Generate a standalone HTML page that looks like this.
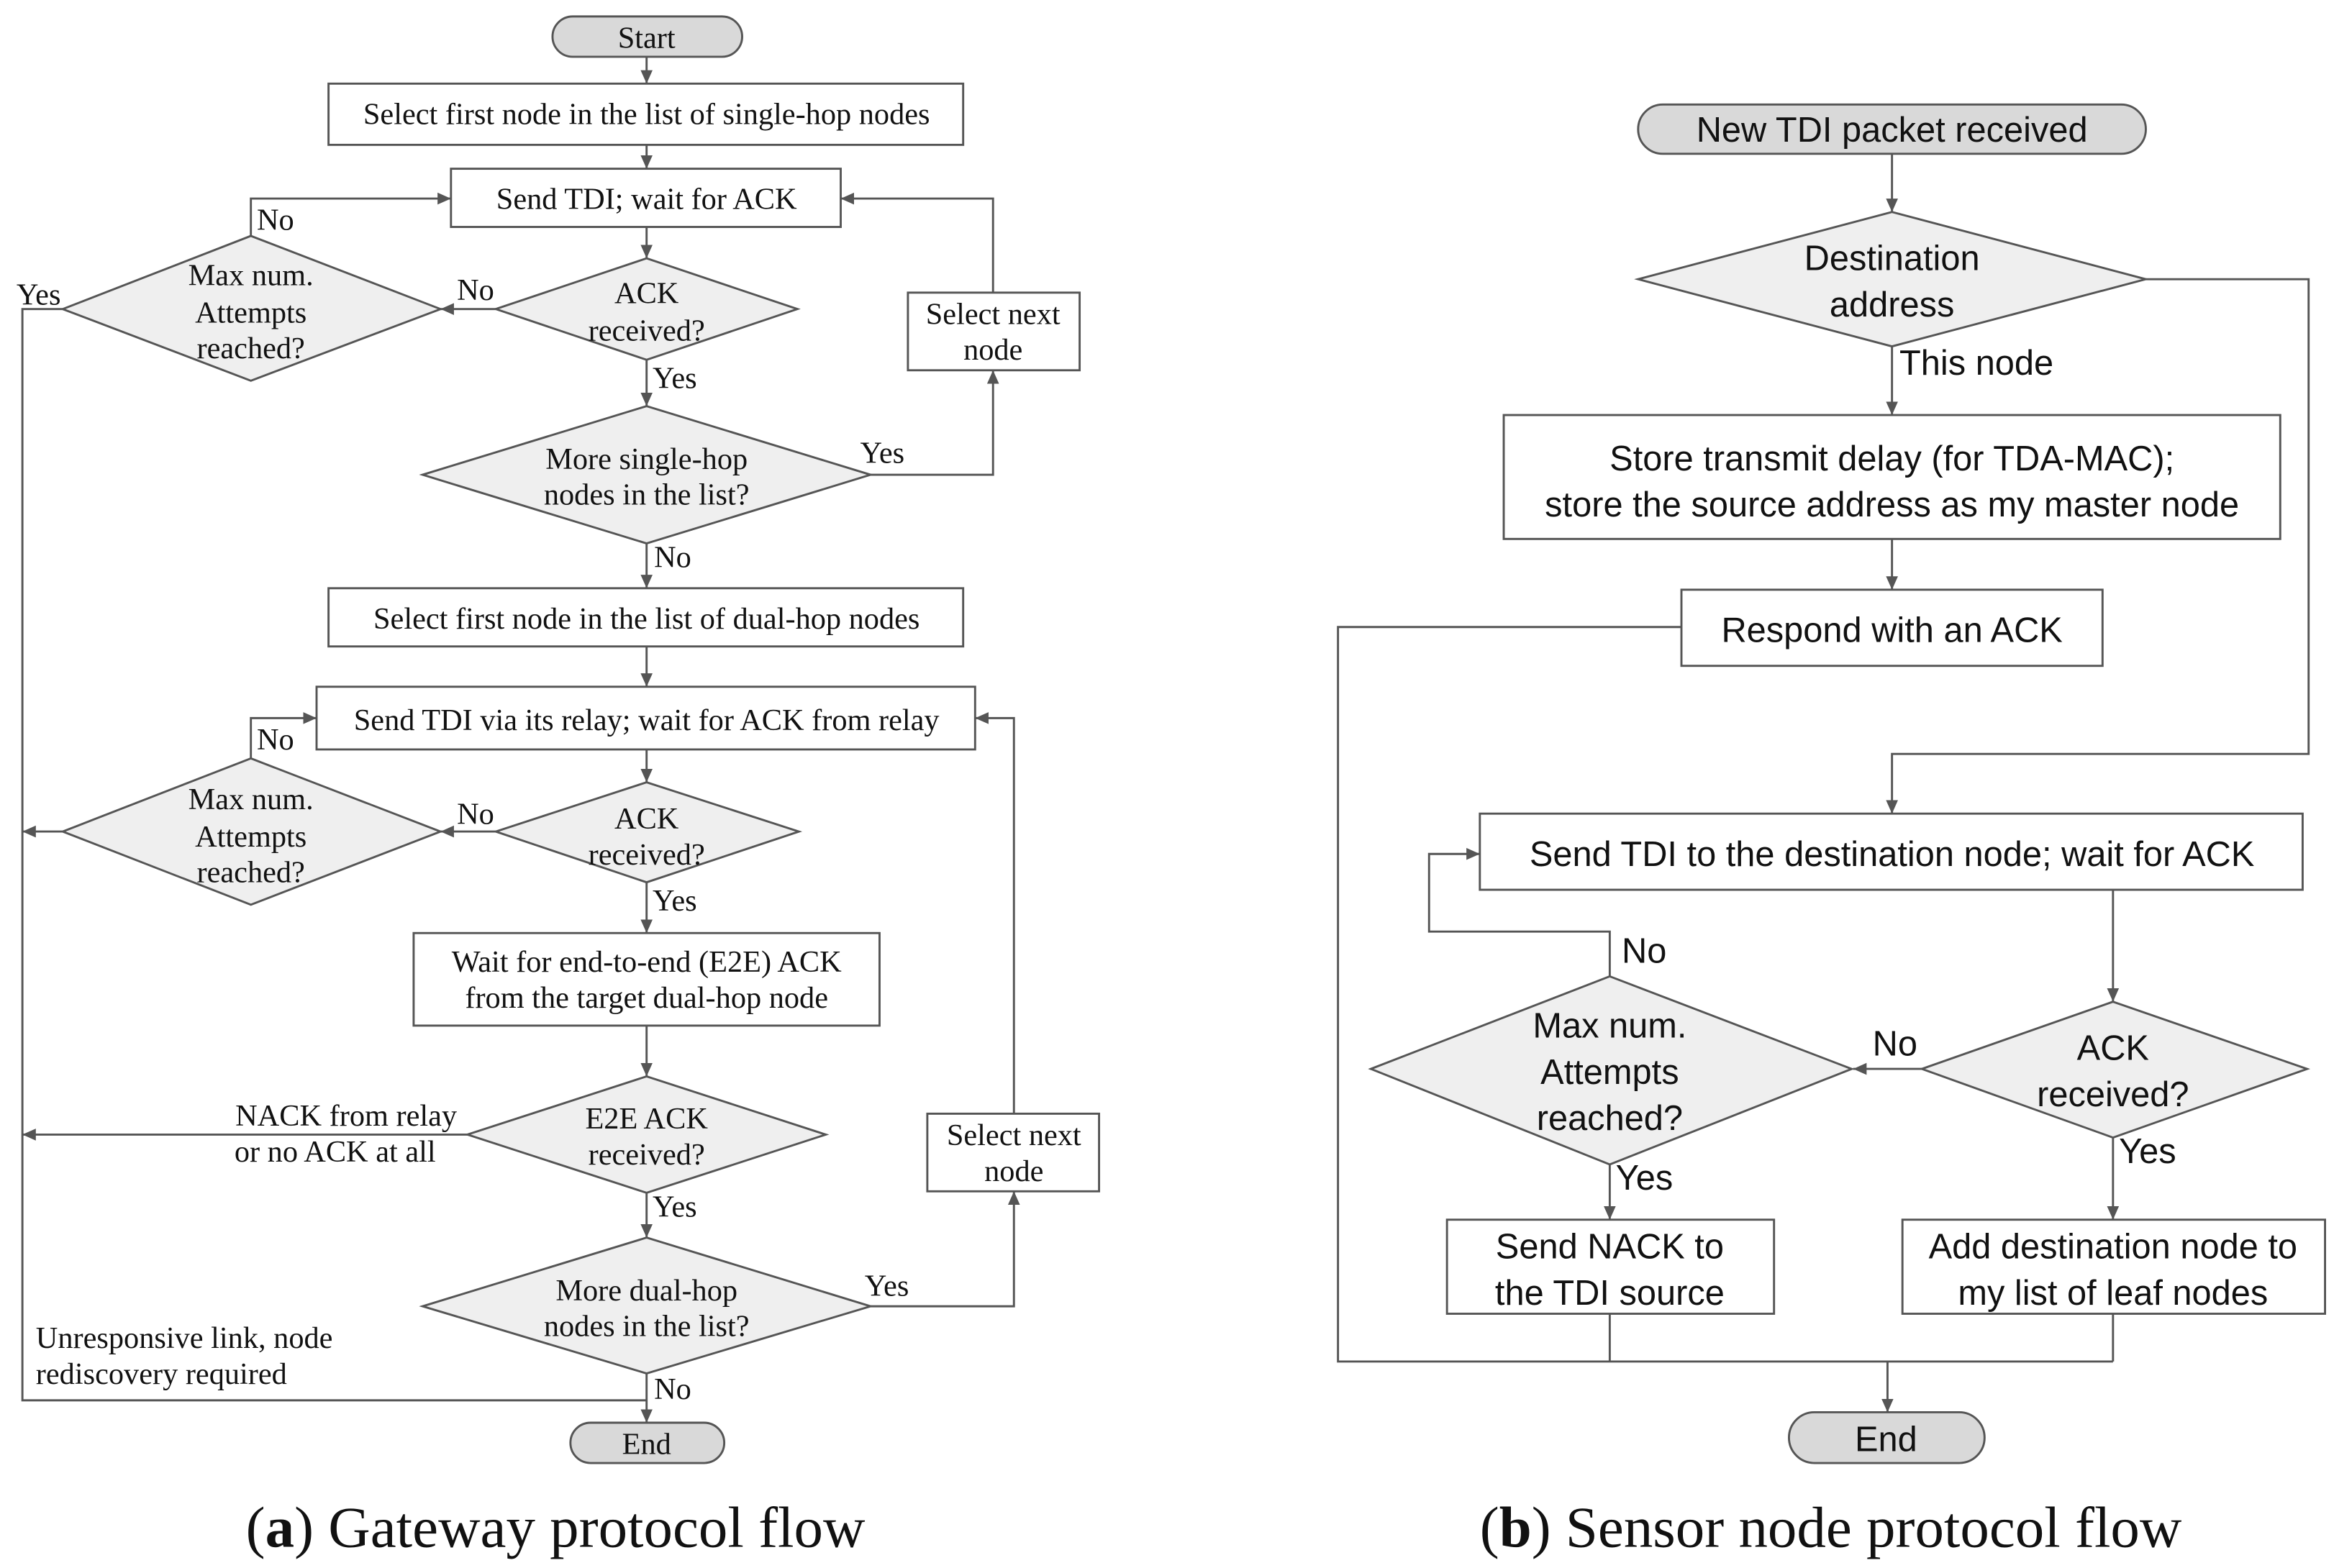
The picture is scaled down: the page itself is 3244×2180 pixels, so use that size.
<!DOCTYPE html>
<html><head><meta charset="utf-8"><style>
html,body{margin:0;padding:0;background:#fff;}
svg{display:block;}
.l text{font-family:"Liberation Serif",serif;font-size:20.4px;fill:#111;}
.r text{font-family:"Liberation Sans",sans-serif;font-size:23.5px;fill:#111;}
.cap{font-family:"Liberation Serif",serif;font-size:39px;fill:#111;}
.ln{stroke:#555;stroke-width:1.4;fill:none;}
.bx{stroke:#555;stroke-width:1.4;fill:#fff;}
.dm{stroke:#555;stroke-width:1.4;fill:#efefef;}
.pl{stroke:#555;stroke-width:1.4;fill:#d9d9d9;}
</style></head><body>
<svg width="3244" height="2180" viewBox="0 0 1563 1050.3" xmlns="http://www.w3.org/2000/svg">
<defs><marker id="a" markerWidth="10" markerHeight="10" refX="9" refY="5" orient="auto" markerUnits="userSpaceOnUse"><path d="M0,1 L9,5 L0,9 z" fill="#555"/></marker></defs>
<g class="l">
<rect class="pl" x="370" y="11" width="127" height="27" rx="13.5"/>
<text x="433" y="32" text-anchor="middle">Start</text>
<line class="ln" x1="433" y1="38" x2="433" y2="56" marker-end="url(#a)"/>
<rect class="bx" x="220" y="56" width="425" height="41"/>
<text x="433" y="83" text-anchor="middle">Select first node in the list of single-hop nodes</text>
<line class="ln" x1="433" y1="97" x2="433" y2="113" marker-end="url(#a)"/>
<rect class="bx" x="302" y="113" width="261" height="39"/>
<text x="433" y="140" text-anchor="middle">Send TDI; wait for ACK</text>
<line class="ln" x1="433" y1="152" x2="433" y2="173" marker-end="url(#a)"/>
<polygon class="dm" points="433,173 534,207 433,241 332,207"/>
<text x="433" y="203" text-anchor="middle">ACK</text><text x="433" y="228" text-anchor="middle">received?</text>
<line class="ln" x1="332" y1="207" x2="295" y2="207" marker-end="url(#a)"/>
<text x="306" y="201">No</text>
<polygon class="dm" points="168,158 295,207 168,255 42,207"/>
<text x="168" y="191" text-anchor="middle">Max num.</text><text x="168" y="216" text-anchor="middle">Attempts</text><text x="168" y="240" text-anchor="middle">reached?</text>
<polyline class="ln" points="168,158 168,133 302,133" marker-end="url(#a)"/>
<text x="172" y="154">No</text>
<polyline class="ln" points="42,207 15,207 15,938 433,938"/>
<text x="11" y="204">Yes</text>
<line class="ln" x1="433" y1="241" x2="433" y2="272" marker-end="url(#a)"/>
<text x="437" y="260">Yes</text>
<polygon class="dm" points="433,272 583,318 433,364 283,318"/>
<text x="433" y="314" text-anchor="middle">More single-hop</text><text x="433" y="338" text-anchor="middle">nodes in the list?</text>
<polyline class="ln" points="583,318 665,318 665,248" marker-end="url(#a)"/>
<text x="576" y="310">Yes</text>
<rect class="bx" x="608" y="196" width="115" height="52"/>
<text x="665" y="217" text-anchor="middle">Select next</text><text x="665" y="241" text-anchor="middle">node</text>
<polyline class="ln" points="665,196 665,133 563,133" marker-end="url(#a)"/>
<line class="ln" x1="433" y1="364" x2="433" y2="394" marker-end="url(#a)"/>
<text x="438" y="380">No</text>
<rect class="bx" x="220" y="394" width="425" height="39"/>
<text x="433" y="421" text-anchor="middle">Select first node in the list of dual-hop nodes</text>
<line class="ln" x1="433" y1="433" x2="433" y2="460" marker-end="url(#a)"/>
<rect class="bx" x="212" y="460" width="441" height="42"/>
<text x="433" y="489" text-anchor="middle">Send TDI via its relay; wait for ACK from relay</text>
<line class="ln" x1="433" y1="502" x2="433" y2="524" marker-end="url(#a)"/>
<polygon class="dm" points="433,524 535,557 433,591 332,557"/>
<text x="433" y="555" text-anchor="middle">ACK</text><text x="433" y="579" text-anchor="middle">received?</text>
<line class="ln" x1="332" y1="557" x2="295" y2="557" marker-end="url(#a)"/>
<text x="306" y="552">No</text>
<polygon class="dm" points="168,508 295,557 168,606 42,557"/>
<text x="168" y="542" text-anchor="middle">Max num.</text><text x="168" y="567" text-anchor="middle">Attempts</text><text x="168" y="591" text-anchor="middle">reached?</text>
<polyline class="ln" points="168,508 168,481 212,481" marker-end="url(#a)"/>
<text x="172" y="502">No</text>
<line class="ln" x1="42" y1="557" x2="15" y2="557" marker-end="url(#a)"/>
<line class="ln" x1="433" y1="591" x2="433" y2="625" marker-end="url(#a)"/>
<text x="437" y="610">Yes</text>
<rect class="bx" x="277" y="625" width="312" height="62"/>
<text x="433" y="651" text-anchor="middle">Wait for end-to-end (E2E) ACK</text><text x="433" y="675" text-anchor="middle">from the target dual-hop node</text>
<line class="ln" x1="433" y1="687" x2="433" y2="721" marker-end="url(#a)"/>
<polygon class="dm" points="433,721 553,760 433,799 313,760"/>
<text x="433" y="756" text-anchor="middle">E2E ACK</text><text x="433" y="780" text-anchor="middle">received?</text>
<line class="ln" x1="313" y1="760" x2="15" y2="760" marker-end="url(#a)"/>
<text x="306" y="754" text-anchor="end">NACK from relay</text>
<text x="157" y="778">or no ACK at all</text>
<line class="ln" x1="433" y1="799" x2="433" y2="829" marker-end="url(#a)"/>
<text x="437" y="815">Yes</text>
<polygon class="dm" points="433,829 583,875 433,920 283,875"/>
<text x="433" y="871" text-anchor="middle">More dual-hop</text><text x="433" y="895" text-anchor="middle">nodes in the list?</text>
<polyline class="ln" points="583,875 679,875 679,798" marker-end="url(#a)"/>
<text x="579" y="868">Yes</text>
<rect class="bx" x="621" y="746" width="115" height="52"/>
<text x="679" y="767" text-anchor="middle">Select next</text><text x="679" y="791" text-anchor="middle">node</text>
<polyline class="ln" points="679,746 679,481 653,481" marker-end="url(#a)"/>
<line class="ln" x1="433" y1="920" x2="433" y2="953" marker-end="url(#a)"/>
<text x="438" y="937">No</text>
<text x="24" y="903">Unresponsive link, node</text>
<text x="24" y="927">rediscovery required</text>
<rect class="pl" x="382" y="953" width="103" height="27" rx="13.5"/>
<text x="433" y="974" text-anchor="middle">End</text>
</g>
<g class="r">
<rect class="pl" x="1097" y="70" width="340" height="33" rx="16.5"/>
<text x="1267" y="95" text-anchor="middle">New TDI packet received</text>
<line class="ln" x1="1267" y1="103" x2="1267" y2="142" marker-end="url(#a)"/>
<polygon class="dm" points="1267,142 1437,187 1267,232 1097,187"/>
<text x="1267" y="181" text-anchor="middle">Destination</text><text x="1267" y="212" text-anchor="middle">address</text>
<polyline class="ln" points="1437,187 1546,187 1546,505 1267,505 1267,545" marker-end="url(#a)"/>
<line class="ln" x1="1267" y1="232" x2="1267" y2="278" marker-end="url(#a)"/>
<text x="1272" y="251">This node</text>
<rect class="bx" x="1007" y="278" width="520" height="83"/>
<text x="1267" y="315" text-anchor="middle">Store transmit delay (for TDA-MAC);</text>
<text x="1267" y="346" text-anchor="middle">store the source address  as my master node</text>
<line class="ln" x1="1267" y1="361" x2="1267" y2="395" marker-end="url(#a)"/>
<rect class="bx" x="1126" y="395" width="282" height="51"/>
<text x="1267" y="430" text-anchor="middle">Respond with an ACK</text>
<polyline class="ln" points="1126,420 896,420 896,912 1415,912"/>
<rect class="bx" x="991" y="545" width="551" height="51"/>
<text x="1267" y="580" text-anchor="middle">Send TDI to the destination node; wait for ACK</text>
<line class="ln" x1="1415" y1="596" x2="1415" y2="671" marker-end="url(#a)"/>
<polygon class="dm" points="1415,671 1545,716 1415,762 1287,716"/>
<text x="1415" y="710" text-anchor="middle">ACK</text><text x="1415" y="741" text-anchor="middle">received?</text>
<line class="ln" x1="1287" y1="716" x2="1241" y2="716" marker-end="url(#a)"/>
<text x="1254" y="707">No</text>
<polygon class="dm" points="1078,654 1240,716 1078,780 918,716"/>
<text x="1078" y="695" text-anchor="middle">Max num.</text><text x="1078" y="726" text-anchor="middle">Attempts</text><text x="1078" y="757" text-anchor="middle">reached?</text>
<polyline class="ln" points="1078,654 1078,624 957,624 957,572 991,572" marker-end="url(#a)"/>
<text x="1086" y="645">No</text>
<line class="ln" x1="1078" y1="780" x2="1078" y2="817" marker-end="url(#a)"/>
<text x="1082" y="797">Yes</text>
<rect class="bx" x="969" y="817" width="219" height="63"/>
<text x="1078" y="843" text-anchor="middle">Send NACK to</text><text x="1078" y="874" text-anchor="middle">the TDI source</text>
<line class="ln" x1="1415" y1="762" x2="1415" y2="817" marker-end="url(#a)"/>
<text x="1419" y="779">Yes</text>
<rect class="bx" x="1274" y="817" width="283" height="63"/>
<text x="1415" y="843" text-anchor="middle">Add destination node to</text><text x="1415" y="874" text-anchor="middle">my list of leaf nodes</text>
<line class="ln" x1="1078" y1="880" x2="1078" y2="912"/>
<line class="ln" x1="1415" y1="880" x2="1415" y2="912"/>
<line class="ln" x1="1264" y1="912" x2="1264" y2="946" marker-end="url(#a)"/>
<rect class="pl" x="1198" y="946" width="131" height="34" rx="17"/>
<text x="1263" y="972" text-anchor="middle">End</text>
</g>
<text class="cap" x="372" y="1036" text-anchor="middle">(<tspan font-weight="bold">a</tspan>) Gateway protocol flow</text>
<text class="cap" x="1226" y="1036" text-anchor="middle">(<tspan font-weight="bold">b</tspan>) Sensor node protocol flow</text>
</svg>
</body></html>
